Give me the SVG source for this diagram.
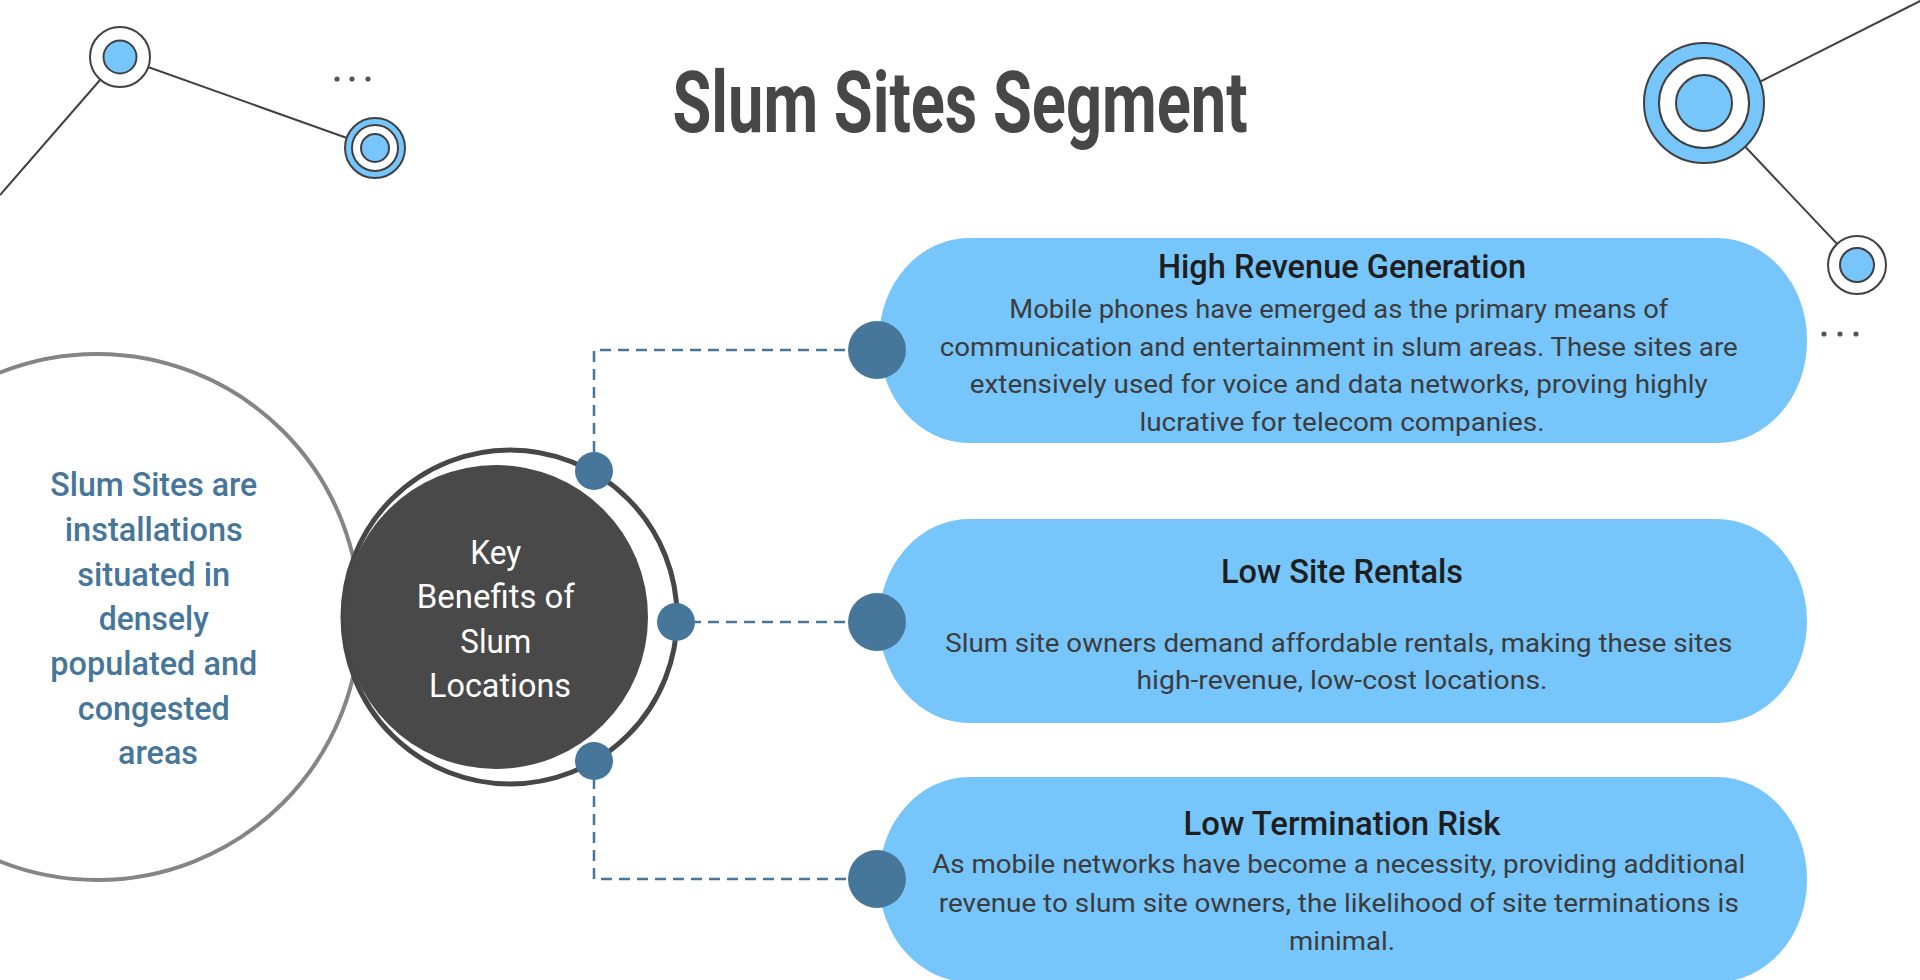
<svg xmlns="http://www.w3.org/2000/svg" width="1920" height="980" viewBox="0 0 1920 980">
<style>
.bg{fill:#ffffff}
.deco{stroke:#404040;stroke-width:2;fill:none}
.ringc{stroke:#404040;stroke-width:2}
.blue{fill:#76C5FB}
.wht{fill:#ffffff}
.dot3{fill:#555555}
.pill{fill:#76C5FB}
.bigdot{fill:#46769A}
.smalldot{fill:#46769A}
.conn{stroke:#46769A;stroke-width:2.5;fill:none;stroke-dasharray:11 7}
.title{font-family:Roboto,"Liberation Sans",sans-serif;font-weight:700;font-size:86px;fill:#474747}
.ptitle{font-family:Roboto,"Liberation Sans",sans-serif;font-weight:500;font-size:33px;fill:#1e1e1e}
.pbody{font-family:Roboto,"Liberation Sans",sans-serif;font-weight:400;font-size:26px;fill:#3c3c3c}
.ctext{font-family:Roboto,"Liberation Sans",sans-serif;font-weight:400;font-size:34px;fill:#ffffff}
.ltext{font-family:Roboto,"Liberation Sans",sans-serif;font-weight:500;font-size:34px;fill:#46769A}
</style>
<rect class="bg" x="0" y="0" width="1920" height="980"/>

<g id="decor-top-left">
  <line class="deco" x1="120" y1="57" x2="0" y2="195"/>
  <line class="deco" x1="120" y1="57" x2="375" y2="148"/>
  <circle class="wht ringc" cx="120" cy="57" r="30"/>
  <circle class="blue ringc" cx="120" cy="57" r="16.5"/>
  <circle class="blue ringc" cx="375" cy="148" r="30"/>
  <circle class="wht ringc" cx="375" cy="148" r="23"/>
  <circle class="blue ringc" cx="375" cy="148" r="14"/>
  <circle class="dot3" cx="337" cy="79" r="2.6"/>
  <circle class="dot3" cx="352" cy="79" r="2.6"/>
  <circle class="dot3" cx="368" cy="79" r="2.6"/>
</g>

<g id="decor-top-right">
  <line class="deco" x1="1704" y1="110" x2="1924" y2="-1"/>
  <line class="deco" x1="1704" y1="103" x2="1857" y2="265"/>
  <circle class="blue ringc" cx="1704" cy="103" r="60"/>
  <circle class="wht ringc" cx="1704" cy="103" r="45"/>
  <circle class="blue ringc" cx="1704" cy="103" r="28"/>
  <circle class="wht ringc" cx="1857" cy="265" r="29"/>
  <circle class="blue ringc" cx="1857" cy="265" r="17"/>
  <circle class="dot3" cx="1824" cy="334" r="2.6"/>
  <circle class="dot3" cx="1840" cy="334" r="2.6"/>
  <circle class="dot3" cx="1856" cy="334" r="2.6"/>
</g>

<g id="title">
  <text class="title" x="960" y="132" text-anchor="middle" textLength="575" lengthAdjust="spacingAndGlyphs">Slum Sites Segment</text>
</g>

<g id="definition">
  <circle cx="97" cy="617" r="263" fill="none" stroke="#858585" stroke-width="4"/>
  <text class="ltext" text-anchor="middle">
    <tspan x="158" y="496" textLength="207" lengthAdjust="spacingAndGlyphs">Slum Sites are</tspan>
    <tspan x="158" y="541" textLength="178" lengthAdjust="spacingAndGlyphs">installations</tspan>
    <tspan x="158" y="586" textLength="153" lengthAdjust="spacingAndGlyphs">situated in</tspan>
    <tspan x="158" y="630" textLength="110" lengthAdjust="spacingAndGlyphs">densely</tspan>
    <tspan x="158" y="675" textLength="207" lengthAdjust="spacingAndGlyphs">populated and</tspan>
    <tspan x="158" y="720" textLength="152" lengthAdjust="spacingAndGlyphs">congested</tspan>
    <tspan x="158" y="764" textLength="80" lengthAdjust="spacingAndGlyphs">areas</tspan>
  </text>
</g>

<g id="connectors">
  <path class="conn" d="M594,452 V350 H860"/>
  <path class="conn" d="M690,622 H860"/>
  <path class="conn" d="M594,778 V879 H860"/>
</g>

<g id="hub">
  <circle cx="510" cy="617" r="167" fill="none" stroke="#474747" stroke-width="5"/>
  <circle cx="496" cy="617" r="152" fill="#494949"/>
  <text class="ctext" text-anchor="middle">
    <tspan x="500" y="564" textLength="51" lengthAdjust="spacingAndGlyphs">Key</tspan>
    <tspan x="500" y="608" textLength="158" lengthAdjust="spacingAndGlyphs">Benefits of</tspan>
    <tspan x="500" y="653" textLength="71" lengthAdjust="spacingAndGlyphs">Slum</tspan>
    <tspan x="500" y="697" textLength="142" lengthAdjust="spacingAndGlyphs">Locations</tspan>
  </text>
  <circle class="smalldot" cx="594" cy="471" r="19"/>
  <circle class="smalldot" cx="676" cy="622" r="19"/>
  <circle class="smalldot" cx="594" cy="761" r="19"/>
</g>

<g id="benefit-1">
  <rect class="pill" x="879" y="238" width="928" height="205" rx="90" ry="102"/>
  <circle class="bigdot" cx="877" cy="350" r="29"/>
  <text class="ptitle" x="1342" y="278" text-anchor="middle" textLength="368" lengthAdjust="spacingAndGlyphs">High Revenue Generation</text>
  <text class="pbody" text-anchor="middle">
    <tspan x="1342" y="318" textLength="659" lengthAdjust="spacingAndGlyphs">Mobile phones have emerged as the primary means of</tspan>
    <tspan x="1342" y="356" textLength="798" lengthAdjust="spacingAndGlyphs">communication and entertainment in slum areas. These sites are</tspan>
    <tspan x="1342" y="393" textLength="738" lengthAdjust="spacingAndGlyphs">extensively used for voice and data networks, proving highly</tspan>
    <tspan x="1342" y="431" textLength="405" lengthAdjust="spacingAndGlyphs">lucrative for telecom companies.</tspan>
  </text>
</g>

<g id="benefit-2">
  <rect class="pill" x="879" y="519" width="928" height="204" rx="90" ry="102"/>
  <circle class="bigdot" cx="877" cy="622" r="29"/>
  <text class="ptitle" x="1342" y="583" text-anchor="middle" textLength="242" lengthAdjust="spacingAndGlyphs">Low Site Rentals</text>
  <text class="pbody" text-anchor="middle">
    <tspan x="1342" y="652" textLength="787" lengthAdjust="spacingAndGlyphs">Slum site owners demand affordable rentals, making these sites</tspan>
    <tspan x="1342" y="689" textLength="411" lengthAdjust="spacingAndGlyphs">high-revenue, low-cost locations.</tspan>
  </text>
</g>

<g id="benefit-3">
  <rect class="pill" x="879" y="777" width="928" height="205" rx="90" ry="102"/>
  <circle class="bigdot" cx="877" cy="879" r="29"/>
  <text class="ptitle" x="1342" y="835" text-anchor="middle" textLength="317" lengthAdjust="spacingAndGlyphs">Low Termination Risk</text>
  <text class="pbody" text-anchor="middle">
    <tspan x="1342" y="873" textLength="813" lengthAdjust="spacingAndGlyphs">As mobile networks have become a necessity, providing additional</tspan>
    <tspan x="1342" y="912" textLength="800" lengthAdjust="spacingAndGlyphs">revenue to slum site owners, the likelihood of site terminations is</tspan>
    <tspan x="1342" y="950" textLength="106" lengthAdjust="spacingAndGlyphs">minimal.</tspan>
  </text>
</g>
</svg>
